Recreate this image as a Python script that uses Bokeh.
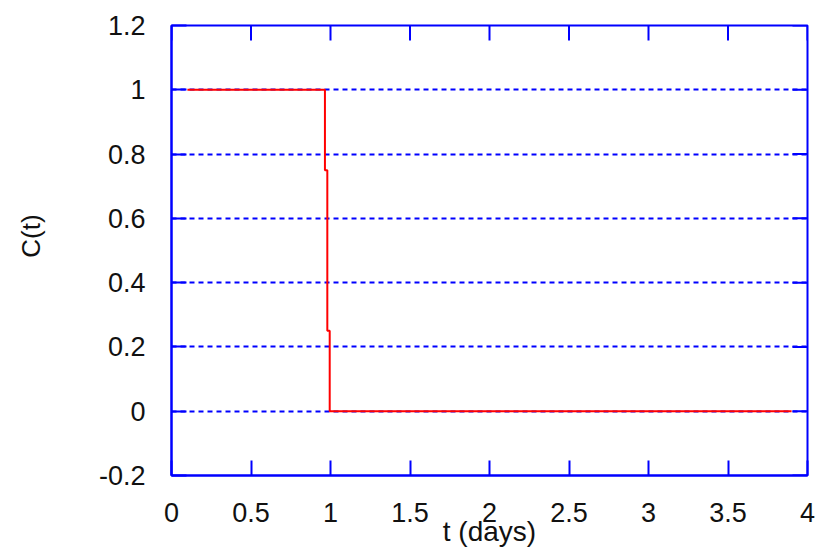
import math
from bokeh.plotting import figure
from bokeh.models import FixedTicker, Range1d
from bokeh.embed import file_html
from bokeh.resources import INLINE

# data
t_vals = [0.1, 0.965, 0.965, 0.98, 0.98, 0.995, 0.995, 3.9]
c_vals = [1.0, 1.0, 0.75, 0.75, 0.25, 0.25, 0.0, 0.0]
x_ticks = [0, 0.5, 1, 1.5, 2, 2.5, 3, 3.5, 4]
x_labels = ["0", "0.5", "1", "1.5", "2", "2.5", "3", "3.5", "4"]
y_ticks = [-0.2, 0, 0.2, 0.4, 0.6, 0.8, 1.0, 1.2]
y_labels = ["-0.2", "0", "0.2", "0.4", "0.6", "0.8", "1", "1.2"]
grid_ticks = [0, 0.2, 0.4, 0.6, 0.8, 1.0]

BLUE = "#0000ff"
FONT = "Liberation Sans"
TXT = "#111111"

p = figure(width=820, height=556, output_backend="svg", toolbar_location=None,
           x_range=Range1d(x_ticks[0], x_ticks[-1]),
           y_range=Range1d(y_ticks[0], y_ticks[-1]),
           min_border_left=171, min_border_top=25, min_border_right=13,
           min_border_bottom=81,
           x_axis_label="t (days)", y_axis_label="\u00a0\u00a0\u00a0\u00a0C(t)")

p.outline_line_color = BLUE
p.outline_line_width = 2
p.xgrid.visible = False
p.ygrid.ticker = FixedTicker(ticks=grid_ticks)
p.ygrid.grid_line_color = BLUE
p.ygrid.grid_line_dash = "5 4"
p.ygrid.grid_line_width = 2

def style(ax, ticks, labels):
    ax.ticker = FixedTicker(ticks=ticks)
    ax.major_label_overrides = {t: l for t, l in zip(ticks, labels)}
    ax.axis_line_color = BLUE
    ax.axis_line_width = 2
    ax.major_tick_line_color = BLUE
    ax.major_tick_line_width = 2
    ax.major_tick_in = 15
    ax.major_tick_out = 0
    ax.minor_tick_line_color = None
    ax.major_label_text_font = FONT
    ax.major_label_text_color = TXT
    ax.major_label_text_font_size = "27px"
    ax.axis_label_text_font = FONT
    ax.axis_label_text_font_style = "normal"
    ax.axis_label_text_color = TXT

style(p.xaxis[0], x_ticks, x_labels)
style(p.yaxis[0], y_ticks, y_labels)
p.xaxis[0].major_label_standoff = 27
p.yaxis[0].major_label_standoff = 26
p.xaxis[0].axis_label_text_font_size = "28px"
p.yaxis[0].axis_label_text_font_size = "26px"
p.xaxis[0].axis_label_standoff = -9
p.yaxis[0].axis_label_standoff = 50

# inward ticks on the top and right borders
p.ray(x=x_ticks, y=[y_ticks[-1]] * len(x_ticks), length=15, length_units="screen",
      angle=-math.pi / 2, line_color=BLUE, line_width=2)
p.ray(x=[x_ticks[-1]] * len(y_ticks), y=y_ticks, length=15, length_units="screen",
      angle=math.pi, line_color=BLUE, line_width=2)

p.line(t_vals, c_vals, line_color="#ff0000", line_width=2)

open("out.html", "w").write(file_html(p, INLINE))
